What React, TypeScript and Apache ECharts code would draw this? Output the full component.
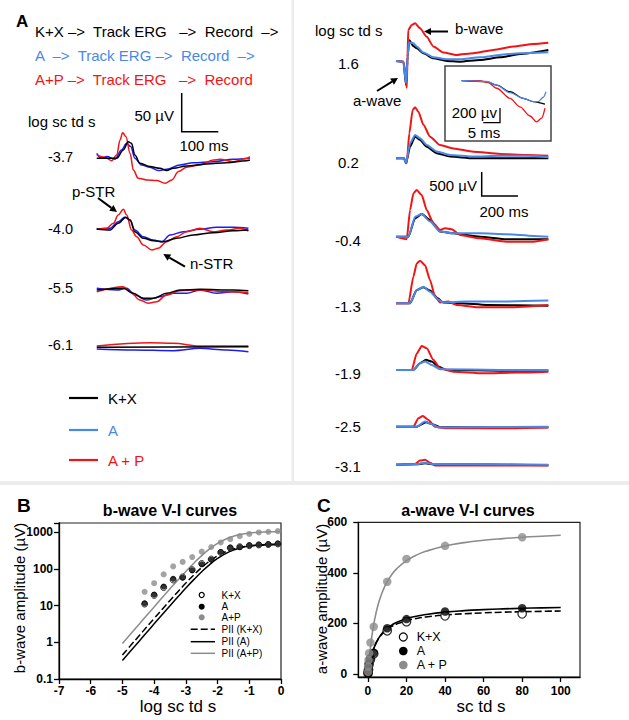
import React, { useEffect, useRef } from "react";
import * as echarts from "echarts";

const FONT = '"Liberation Sans", Arial, Helvetica, sans-serif';
const BLACK = "#000000";
const RED = "#f21414";
const BLUE_DIM = "#1c1cf0";
const BLUE = "#4a88e8";
const GRAY = "#8c8c8c";

// ---------- Panel A, left column (dim flashes): [time ms, amplitude µV] ----------
const leftLevels = ["-3.7", "-4.0", "-5.5", "-6.1"];
const L37_KX = [[2,0],[56,0],[74,10.6],[87,21.3],[96,19.2],[105,4.2],[119,-6.4],[146,-10.6],[173,-12.8],[191,-15.8],[209,-12.8],[245,-9.8],[299,-7.3],[353,-5.6],[407,-3],[416,-2.2]];
const L37_A = [[2,6.4],[15,0],[29,2.2],[51,-1.3],[69,10.6],[83,19.2],[94,15],[105,0],[123,-8.6],[146,-11.5],[168,-15.8],[191,-14.1],[227,-8.6],[263,-5.6],[317,-4.3],[371,-1.3],[416,0]];
const L37_AP = [[2,4.2],[24,1.3],[42,-3],[56,4.2],[65,23.5],[72,32.8],[81,27.7],[92,6.4],[101,-15],[114,-25.6],[137,-27.7],[164,-28.6],[187,-32],[205,-27.7],[223,-17],[245,-11.5],[281,-8.6],[317,-2.2],[335,-1.3],[371,-4.3],[407,0],[416,2.2]];
const L40_KX = [[2,0],[38,-1.3],[60,7.3],[81,15],[92,11.5],[105,-3.5],[128,-11.9],[155,-15],[182,-16.3],[218,-11.9],[263,-7.7],[317,-4.7],[371,-2.2],[412,-1.3]];
const L40_A = [[2,0],[38,0.9],[60,9.4],[78,15],[92,11.5],[105,-1.3],[128,-9.9],[155,-14.1],[178,-16.3],[200,-7.7],[236,-3.5],[281,-0.4],[326,2.2],[371,2.2],[412,0.9]];
const L40_AP = [[2,-0.4],[29,0.9],[47,7.3],[60,17.9],[74,25.3],[83,17.9],[96,-1.3],[110,-9.9],[128,-20.5],[151,-26.9],[168,-24.7],[191,-16.3],[218,-9.9],[245,-3.5],[281,0.9],[317,-3.5],[353,-1.3],[389,0.9],[412,-2.6]];
const L55_KX = [[2,-1.3],[74,0.9],[101,-5.5],[128,-11.9],[155,-11.9],[191,-5.5],[227,-1.3],[281,-0.4],[371,-1.3],[412,-2.2]];
const L55_A = [[2,0.9],[56,-1.3],[83,0.9],[105,-7.7],[137,-14.1],[173,-9.9],[209,-5.5],[245,-5.5],[281,-1.3],[326,-5.5],[371,-3.5],[412,-6.4]];
const L55_AP = [[2,-3.5],[74,2.9],[92,-3.5],[119,-14.1],[141,-18.3],[164,-16.3],[191,-7.7],[227,-2.2],[281,-1.3],[353,-3.5],[412,-4.7]];
const L61_KX = [[2,-0.4],[412,0.4]];
const L61_A = [[2,-2.6],[101,-3.8],[209,-4.7],[281,-1.7],[353,-3.8],[412,-6.1]];
const L61_AP = [[2,1.3],[146,5.5],[209,4.7],[281,1.3],[412,1.3]];

// ---------- Panel A, right column (bright flashes): [time ms, amplitude µV] ----------
const rightLevels = ["1.6", "0.2", "-0.4", "-1.3", "-1.9", "-2.5", "-3.1"];
const R16_KX = [[0,0],[40,-15],[54,-500],[63,100],[72,430],[94,310],[112,265],[148,160],[202,55],[274,0],[346,-15],[454,20],[562,75],[670,145],[823,230]];
const R16_A = [[0,0],[40,-15],[54,-465],[63,100],[70,390],[94,370],[112,300],[148,175],[202,75],[274,35],[346,35],[454,75],[562,125],[670,160],[823,180]];
const R16_AP = [[0,0],[40,-15],[50,-200],[58,-560],[62,0],[66,645],[85,750],[103,785],[130,680],[166,505],[202,300],[256,175],[328,125],[418,160],[526,230],[634,300],[742,355],[823,380]];
const R02_KX = [[0,0],[43,0],[54,-105],[76,240],[103,450],[130,380],[166,240],[220,105],[292,35],[418,0],[562,0],[823,0]];
const R02_A = [[0,0],[43,0],[54,-90],[76,310],[103,485],[130,415],[166,275],[220,140],[292,70],[418,35],[562,50],[706,50],[823,20]];
const R02_AP = [[0,0],[43,0],[58,-105],[72,520],[90,1005],[103,1060],[121,970],[148,695],[184,450],[238,275],[310,205],[418,135],[562,90],[706,70],[823,50]];
const Rm04_KX = [[0,0],[67,0],[103,380],[139,470],[184,350],[238,105],[310,70],[454,0],[598,-55],[823,-55]];
const Rm04_A = [[0,0],[67,0],[103,415],[139,470],[184,315],[238,105],[310,70],[454,70],[598,50],[742,15],[823,0]];
const Rm04_AP = [[0,0],[58,-55],[76,555],[94,900],[112,970],[139,865],[166,555],[202,280],[238,140],[265,175],[301,155],[346,35],[454,-35],[598,-105],[742,-105],[823,-55]];
const Rm13_KX = [[0,0],[76,0],[112,275],[148,335],[184,265],[225,105],[256,15],[346,0],[490,-35],[823,-50]];
const Rm13_A = [[0,0],[76,0],[112,275],[148,345],[184,240],[225,85],[256,15],[382,35],[562,35],[823,55]];
const Rm13_AP = [[0,0],[67,0],[94,555],[112,830],[130,885],[157,790],[184,480],[211,140],[238,15],[283,35],[328,-35],[454,-85],[598,-85],[823,-35]];
const Rm19_KX = [[0,0],[94,0],[130,140],[162,210],[193,175],[229,70],[274,0],[562,-15],[823,-15]];
const Rm19_A = [[0,0],[94,0],[130,140],[157,175],[193,105],[238,15],[562,0],[823,0]];
const Rm19_AP = [[0,0],[85,0],[112,345],[139,500],[166,450],[202,210],[238,35],[310,-35],[472,-70],[652,-55],[823,-35]];
const Rm25_KX = [[0,0],[112,0],[162,90],[198,50],[238,-10],[823,-10]];
const Rm25_A = [[0,0],[112,0],[157,105],[193,55],[229,-15],[823,0]];
const Rm25_AP = [[0,0],[94,0],[121,175],[145,220],[175,140],[211,0],[274,-35],[562,-35],[823,-15]];
const Rm31_KX = [[0,0],[121,10],[157,30],[193,10],[823,-10]];
const Rm31_A = [[0,0],[121,15],[157,40],[193,15],[823,0]];
const Rm31_AP = [[0,0],[103,15],[130,85],[157,100],[184,40],[211,-15],[823,-15]];

// ---------- Inset: a-wave leading edge at 1.6 log sc td s ----------
const IN_KX = [[0,0],[7.5,-14],[10.5,-60],[14.5,-150],[18.5,-240],[21.5,-285],[25,-320]];
const IN_A = [[0,0],[7.5,-10],[10.5,-60],[14.5,-163],[18.5,-240],[21.5,-285],[23,-285],[24.5,-225],[25.3,-150]];
const IN_AP = [[0,0],[5.5,0],[8,-27],[10.5,-103],[14.5,-240],[17.5,-355],[20.5,-480],[22.5,-560],[24,-510],[25,-375]];

// ---------- Panel B: b-wave V-I ----------
const bLogI = [-4.3,-4.0,-3.7,-3.4,-3.1,-2.8,-2.5,-2.2,-1.9,-1.6,-1.3,-1.0,-0.7,-0.4,-0.1];
const bKX = [11,19,31,50,60,95,140,185,280,370,400,430,450,462,478];
const bA = [11.5,19.9,33,53.7,57.5,91.6,133,178,288,380,393,439,456,466,490];
const bAP = [23.7,40.8,70.8,117,155,210,295,395,525,643,779,894,982,1022,1066];
const bFitLogI = [-5,-4.75,-4.5,-4.25,-4,-3.75,-3.5,-3.25,-3,-2.75,-2.5,-2.25,-2,-1.75,-1.5,-1.25,-1,-0.75,-0.5,-0.25,0];
const bFitKX = [0.45,0.8,1.42,2.52,4.47,7.88,13.8,24,41,68.3,109,163.5,228,292,348,389,417,435,445,452,455];
const bFitA = [0.32,0.568,1.01,1.79,3.18,5.62,9.9,17.3,30,50.9,83.6,130.9,192,260,326,379,417,443,458,467.5,473];
const bFitAP = [0.93,1.65,2.93,5.2,9.21,16.3,28.6,49.8,85.4,142.8,229.6,348.9,493,642,773.6,874,943,987,1014,1029,1038];
const bYTicks = [0.1, 1, 10, 100, 1000];

// ---------- Panel C: a-wave V-I ----------
const cI = [0.05,0.1,0.3,0.6,1.3,3,10,20,40,80];
const cKX = [3,7,18,38,58,80,171,207,230,238];
const cA = [3,8,20,40,62,84,181,217,247,260];
const cAP = [8,29,55,82,124,187,365,455,507,541];
const cFitI = [0,0.5,1,2,3,4,5,6,8,10,12.5,15,20,25,30,40,50,60,70,80,90,100];
const cFitKX = [0,24.8,45.3,77.3,100.9,119.2,133.7,145.6,163.6,176.8,189,198.1,210.7,219.2,225.2,233.1,238.2,241.7,244.3,246.2,247.8,249];
const cFitA = [0,23.8,43.8,75.7,99.9,118.9,134.2,146.8,166.4,180.8,194.2,204.5,218.7,228.3,235.3,244.5,250.4,254.4,257.4,259.7,261.5,263];
const cFitAP = [0,45.2,84,146.7,195.4,234.2,266,292.4,333.9,365,394.3,416.6,448.3,469.8,485.2,506.2,519.5,528.8,535.6,541,545.1,548.5];
const cXTicks = [0, 20, 40, 60, 80, 100];
const cYTicks = [0, 200, 400, 600];

// ---------- layout (pixels) ----------
const leftBaseY = [158.3, 229, 289, 347];
const rightBaseY = [61, 158.3, 236.7, 303.3, 370, 426.7, 464.7];

function buildOption() {
  const grids: any[] = [];
  const xAxes: any[] = [];
  const yAxes: any[] = [];
  const series: any[] = [];

  const addGrid = (g: any, x: any, y: any) => {
    grids.push(g);
    const gi = grids.length - 1;
    xAxes.push({ gridIndex: gi, ...x });
    yAxes.push({ gridIndex: gi, ...y });
    return gi;
  };
  const hiddenAxis = (min: number, max: number) => ({ type: "value", show: false, min, max, splitLine: { show: false } });
  const trace = (gi: number, data: number[][], color: string, width: number, smooth = 0.35) => {
    series.push({
      type: "line", xAxisIndex: gi, yAxisIndex: gi, data, symbol: "none", showSymbol: false,
      smooth, smoothMonotone: "x", silent: true,
      lineStyle: { color, width }, z: 3,
    });
  };

  // left traces
  const leftSets = [
    [L37_A, L37_AP, L37_KX],
    [L40_A, L40_AP, L40_KX],
    [L55_A, L55_AP, L55_KX],
    [L61_A, L61_AP, L61_KX],
  ];
  leftSets.forEach((set, i) => {
    const base = leftBaseY[i];
    const gi = addGrid({ left: 96, top: base - 35.1, width: 155, height: 70.2 }, hiddenAxis(0, 419), hiddenAxis(-45, 45));
    trace(gi, set[0], BLUE_DIM, 1.5);
    trace(gi, set[1], RED, 1.5);
    trace(gi, set[2], BLACK, 1.5);
  });

  // right traces
  const rightSets = [
    [R16_KX, R16_AP, R16_A],
    [R02_KX, R02_AP, R02_A],
    [Rm04_KX, Rm04_AP, Rm04_A],
    [Rm13_KX, Rm13_AP, Rm13_A],
    [Rm19_KX, Rm19_AP, Rm19_A],
    [Rm25_KX, Rm25_AP, Rm25_A],
    [Rm31_KX, Rm31_AP, Rm31_A],
  ];
  rightSets.forEach((set, i) => {
    const base = rightBaseY[i];
    const gi = addGrid({ left: 396, top: base - 57.7, width: 154, height: 91.3 }, hiddenAxis(0, 832), hiddenAxis(-700, 1200));
    trace(gi, set[0], BLACK, 2, 0.2);
    trace(gi, set[1], RED, 2, 0.2);
    trace(gi, set[2], BLUE, 2, 0.2);
  });

  // inset
  {
    const gi = addGrid({ left: 455, top: 70.7, width: 93.3, height: 60 }, hiddenAxis(-2, 26), hiddenAxis(-680, 136));
    trace(gi, IN_KX, BLACK, 1.3, 0.3);
    trace(gi, IN_AP, RED, 1.3, 0.3);
    trace(gi, IN_A, BLUE, 1.3, 0.3);
  }

  const axisLine = { show: true, onZero: false, lineStyle: { color: "#000", width: 1.3 } };
  const axisTick = { show: true, length: 5, inside: false, lineStyle: { color: "#000", width: 1.3 } };
  const tickLabel = { color: "#000", fontFamily: "Arial, \"Liberation Sans\", sans-serif", fontWeight: 700, fontSize: 12 };

  // Panel B
  const gB = addGrid(
    { left: 59, top: 523, width: 222, height: 156, show: true, borderColor: "#222", borderWidth: 1.2, backgroundColor: "transparent" },
    { type: "value", min: -7, max: 0, interval: 1, axisLine, axisTick, splitLine: { show: false },
      axisLabel: { ...tickLabel, margin: 6 } },
    { type: "log", logBase: 10, min: 0.1, max: 1778, axisLine, axisTick, splitLine: { show: false },
      axisLabel: { ...tickLabel, margin: 6,
        formatter: (v: number) => {
          const hit = bYTicks.find((t) => Math.abs(Math.log10(v) - Math.log10(t)) < 1e-6);
          return hit === undefined ? "" : String(hit);
        } } }
  );
  const bLine = (ys: number[], color: string, type: any) => series.push({
    type: "line", xAxisIndex: gB, yAxisIndex: gB, data: bFitLogI.map((x, i) => [x, ys[i]]),
    symbol: "none", smooth: true, silent: true, lineStyle: { color, width: 1.5, type }, z: 2,
  });
  bLine(bFitKX, BLACK, [7, 3]);
  bLine(bFitA, BLACK, "solid");
  bLine(bFitAP, GRAY, "solid");
  const bPts = (ys: number[], style: any) => series.push({
    type: "scatter", xAxisIndex: gB, yAxisIndex: gB, data: bLogI.map((x, i) => [x, ys[i]]),
    symbol: "circle", symbolSize: 6, itemStyle: style, silent: true, z: 4,
  });
  bPts(bKX, { color: "#fff", borderColor: "#000", borderWidth: 1 });
  bPts(bA, { color: "#000" });
  bPts(bAP, { color: GRAY });

  // Panel C
  const gC = addGrid(
    { left: 358.3, top: 522.3, width: 221.7, height: 154.7, show: true, borderColor: "#222", borderWidth: 1.2, backgroundColor: "transparent" },
    { type: "value", min: -5, max: 110, axisLine, splitLine: { show: false },
      axisTick: { ...axisTick, customValues: cXTicks },
      axisLabel: { ...tickLabel, margin: 8, customValues: cXTicks } },
    { type: "value", min: -12, max: 600, axisLine, splitLine: { show: false },
      axisTick: { ...axisTick, customValues: cYTicks },
      axisLabel: { ...tickLabel, margin: 11, customValues: cYTicks } }
  );
  const cLine = (ys: number[], color: string, type: any) => series.push({
    type: "line", xAxisIndex: gC, yAxisIndex: gC, data: cFitI.map((x, i) => [x, ys[i]]),
    symbol: "none", smooth: true, silent: true, lineStyle: { color, width: 1.6, type }, z: 2,
  });
  cLine(cFitKX, BLACK, [7, 3]);
  cLine(cFitA, BLACK, "solid");
  cLine(cFitAP, GRAY, "solid");
  const cPts = (ys: number[], style: any) => series.push({
    type: "scatter", xAxisIndex: gC, yAxisIndex: gC, data: cI.map((x, i) => [x, ys[i]]),
    symbol: "circle", symbolSize: 8.5, itemStyle: style, silent: true, z: 4,
  });
  cPts(cKX, { color: "#fff", borderColor: "#000", borderWidth: 1.3 });
  cPts(cA, { color: "#000" });
  cPts(cAP, { color: GRAY });

  // ---------- graphics: labels, scale bars, arrows, legends ----------
  const g: any[] = [];
  const txt = (x: number, y: number, text: string, o: any = {}) => g.push({
    type: "text", x, y, rotation: o.rot || 0, z: 20, silent: true,
    style: { text, fill: o.color || "#000", fontSize: o.size || 15, fontFamily: FONT,
      fontWeight: o.weight || "normal", align: o.align || "left", verticalAlign: "middle" },
  });
  const line = (x1: number, y1: number, x2: number, y2: number, stroke = "#000", w = 1.5, dash: any = null) => g.push({
    type: "line", z: 20, silent: true, shape: { x1, y1, x2, y2 },
    style: { stroke, lineWidth: w, lineDash: dash || undefined },
  });
  const poly = (pts: number[][], stroke = "#000", w = 1.5) => g.push({
    type: "polyline", z: 20, silent: true, shape: { points: pts }, style: { stroke, lineWidth: w, fill: "none" },
  });
  const arrow = (x1: number, y1: number, x2: number, y2: number) => {
    const dx = x2 - x1, dy = y2 - y1, len = Math.hypot(dx, dy);
    const ux = dx / len, uy = dy / len, hl = 7, hw = 3.6;
    const bx = x2 - ux * hl, by = y2 - uy * hl;
    line(x1, y1, bx, by, "#000", 2);
    g.push({ type: "polygon", z: 20, silent: true,
      shape: { points: [[x2, y2], [bx - uy * hw, by + ux * hw], [bx + uy * hw, by - ux * hw]] },
      style: { fill: "#000" } });
  };
  const dot = (cx: number, cy: number, r: number, fill: string, stroke: string | null = null) => g.push({
    type: "circle", z: 20, silent: true, shape: { cx, cy, r },
    style: { fill, stroke: stroke || undefined, lineWidth: stroke ? 1.2 : 0 },
  });

  // separators
  g.push({ type: "rect", z: 0, silent: true, shape: { x: 291.5, y: 0, width: 2.5, height: 482 }, style: { fill: "#ececec" } });
  g.push({ type: "rect", z: 0, silent: true, shape: { x: 0, y: 481, width: 629, height: 4 }, style: { fill: "#ececec" } });

  // Panel A header
  txt(16, 21, "A", { size: 17, weight: "bold" });
  txt(35, 31.5, "K+X –>  Track ERG   –>  Record  –>", { size: 15 });
  txt(35, 55, "A  –>  Track ERG –>  Record  –>", { size: 15, color: BLUE });
  txt(35, 79, "A+P –>  Track ERG   –>  Record", { size: 15, color: RED });

  // left column labels
  txt(28, 121, "log sc td s", { size: 15 });
  leftLevels.forEach((l, i) => txt(48, [157, 229, 288, 345][i], l, { size: 14.5 }));
  poly([[181.7, 93], [181.7, 131.7], [218.3, 131.7]]);
  txt(174, 115, "50 µV", { size: 15, align: "right" });
  txt(204, 145, "100 ms", { size: 15, align: "center" });
  txt(72, 191, "p-STR", { size: 15 });
  arrow(98, 198, 117, 212);
  txt(190, 263, "n-STR", { size: 15 });
  arrow(185, 266.7, 163.3, 254);

  // left legend
  line(69, 398, 98, 398, BLACK, 2.2);
  line(69, 430, 98, 430, BLUE, 2.2);
  line(69, 460, 98, 460, RED, 2.2);
  txt(108, 398, "K+X", { size: 15 });
  txt(108, 430, "A", { size: 15, color: BLUE });
  txt(108, 460, "A + P", { size: 15, color: RED });

  // right column labels
  txt(315, 30, "log sc td s", { size: 15 });
  const rY = [63.5, 162, 240, 306.7, 373.3, 426.7, 466];
  rightLevels.forEach((l, i) => txt(l.startsWith("-") ? 335 : 338, rY[i], l, { size: 15 }));
  txt(455, 28.5, "b-wave", { size: 15 });
  arrow(448, 31.5, 424, 31.5);
  txt(353, 100, "a-wave", { size: 15 });
  arrow(377, 91, 398, 78);
  poly([[481.7, 172], [481.7, 196], [518, 196]]);
  txt(477, 185, "500 µV", { size: 15, align: "right" });
  txt(504, 211, "200 ms", { size: 15, align: "center" });

  // inset box
  g.push({ type: "rect", z: 1, silent: true, shape: { x: 445, y: 66, width: 106, height: 75 }, style: { fill: "none", stroke: "#444", lineWidth: 1.5 } });
  poly([[500, 108], [500, 122.7], [483.3, 122.7]], "#000", 1.3);
  txt(497, 112, "200 µv", { size: 15, align: "right" });
  txt(484, 132, "5 ms", { size: 15, align: "center" });

  // Panel B labels
  txt(17, 505, "B", { size: 19, weight: "bold" });
  txt(170, 510, "b-wave V-I curves", { size: 16, weight: "bold", align: "center" });
  txt(178, 706, "log sc td s", { size: 17, align: "center" });
  txt(19, 598, "b-wave amplitude (µV)", { size: 15, align: "center", rot: Math.PI / 2 });
  dot(201.7, 595, 2.5, "#fff", "#000");
  dot(201.7, 606.7, 3, "#000");
  dot(201.7, 617.3, 3, GRAY);
  line(190.7, 629.3, 215, 629.3, BLACK, 1.5, [7, 3]);
  line(190.7, 641.7, 215, 641.7, BLACK, 1.5);
  line(190.7, 653.3, 215, 653.3, GRAY, 1.5);
  ["K+X", "A", "A+P", "PII (K+X)", "PII (A)", "PII (A+P)"].forEach((t, i) =>
    txt(221.5, [595, 606.7, 617.3, 629.3, 641.7, 653.3][i], t, { size: 10 }));

  // Panel C labels
  txt(317, 505, "C", { size: 19, weight: "bold" });
  txt(468, 510, "a-wave V-I curves", { size: 16, weight: "bold", align: "center" });
  txt(481, 706, "sc td s", { size: 17, align: "center" });
  txt(321, 599, "a-wave amplitude (µV)", { size: 15, align: "center", rot: Math.PI / 2 });
  const cLegY = [637, 651, 665];
  dot(403.3, cLegY[0], 4, "#fff", "#000");
  dot(403.3, cLegY[1], 4.3, "#000");
  dot(403.3, cLegY[2], 4.3, GRAY);
  ["K+X", "A", "A + P"].forEach((t, i) => txt(416.7, cLegY[i], t, { size: 12.5 }));

  return {
    animation: false,
    backgroundColor: "#ffffff",
    textStyle: { fontFamily: FONT },
    grid: grids,
    xAxis: xAxes,
    yAxis: yAxes,
    series,
    graphic: g,
  };
}

export default function App() {
  const ref = useRef<HTMLDivElement>(null);
  useEffect(() => {
    if (!ref.current) return;
    const chart = echarts.init(ref.current, null, { renderer: "svg" });
    chart.setOption(buildOption());
    return () => chart.dispose();
  }, []);
  return (
    <div
      ref={ref}
      style={{ position: "fixed", left: 0, top: 0, width: 629, height: 720, background: "#fff" }}
    />
  );
}
